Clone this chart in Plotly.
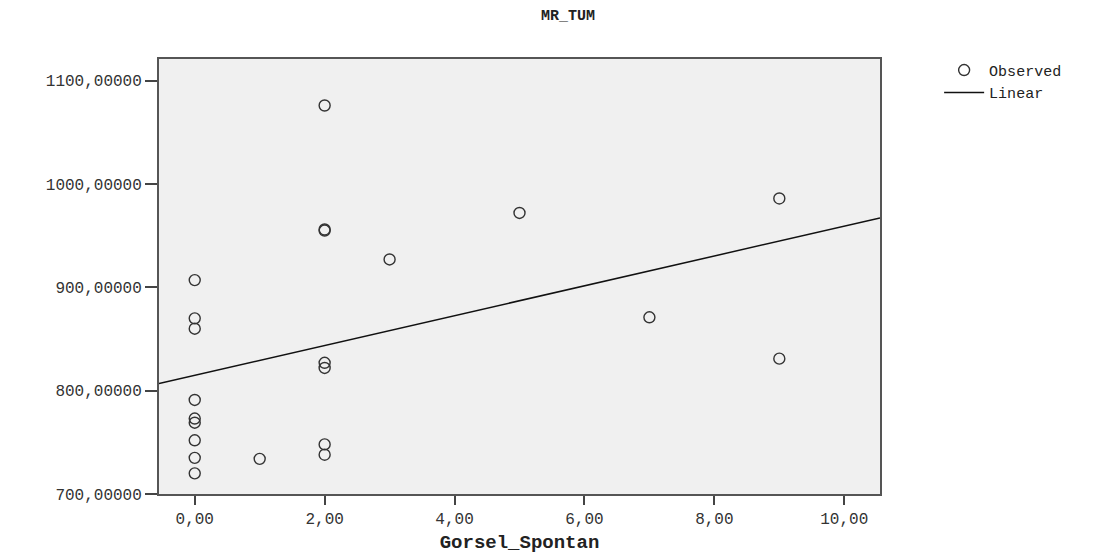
import numpy as np
import plotly.graph_objects as go

# Observed data (Gorsel_Spontan vs MR_TUM)
gorsel_spontan = [0, 0, 0, 0, 0, 0, 0, 0, 0,
                  1,
                  2, 2, 2, 2, 2, 2, 2,
                  3, 5, 7, 9, 9]
mr_tum = [907, 870, 860, 791, 773, 769, 752, 735, 720,
          734,
          1076, 956, 955, 827, 822, 748, 738,
          927, 972, 871, 986, 831]

x_range = [-0.55, 10.55]
y_range = [700, 1121]
x_ticks = [0, 2, 4, 6, 8, 10]
x_ticktext = ["0,00", "2,00", "4,00", "6,00", "8,00", "10,00"]
y_ticks = [700, 800, 900, 1000, 1100]
y_ticktext = ["700,00000", "800,00000", "900,00000", "1000,00000", "1100,00000"]

slope, intercept = np.polyfit(gorsel_spontan, mr_tum, 1)
line_x = np.array(x_range)
line_y = intercept + slope * line_x

mono = "Liberation Mono, Courier New, monospace"

fig = go.Figure()
fig.add_trace(go.Scatter(
    x=gorsel_spontan, y=mr_tum, mode="markers", name="Observed",
    marker=dict(symbol="circle-open", size=11, color="#333333",
                line=dict(width=1.4, color="#333333")),
))
fig.add_trace(go.Scatter(
    x=line_x, y=line_y, mode="lines", name="Linear",
    line=dict(color="#111111", width=1.5),
))

fig.update_layout(
    width=1110, height=560,
    margin=dict(l=151, r=238, t=51, b=74),
    paper_bgcolor="white",
    plot_bgcolor="#f0f0f0",
    title=dict(text="<b>MR_TUM</b>", x=0.5045, xref="container", xanchor="center",
               y=0.997, yref="container", yanchor="top",
               font=dict(family=mono, size=15, color="#222222")),
    showlegend=True,
    legend=dict(x=1.082, y=1.012, xanchor="left", yanchor="top",
                font=dict(family=mono, size=15, color="#222222"),
                bgcolor="rgba(0,0,0,0)", tracegroupgap=0, itemwidth=40),
    font=dict(family=mono, color="#333333"),
)

fig.update_xaxes(
    range=x_range, tickmode="array", tickvals=x_ticks, ticktext=x_ticktext,
    showgrid=False, zeroline=False,
    showline=True, mirror=True, linecolor="#555555", linewidth=2,
    ticks="outside", ticklen=9, tickwidth=2, tickcolor="#444444",
    tickfont=dict(family=mono, size=16, color="#333333"),
    title=dict(text="<b>Gorsel_Spontan</b>", standoff=6,
               font=dict(family=mono, size=19, color="#222222")),
)
fig.update_yaxes(
    range=y_range, tickmode="array", tickvals=y_ticks, ticktext=y_ticktext,
    showgrid=False, zeroline=False,
    showline=True, mirror=True, linecolor="#555555", linewidth=2,
    ticks="outside", ticklen=12, tickwidth=2, tickcolor="#444444",
    tickfont=dict(family=mono, size=16, color="#333333"),
)

fig.write_html("out.html")
